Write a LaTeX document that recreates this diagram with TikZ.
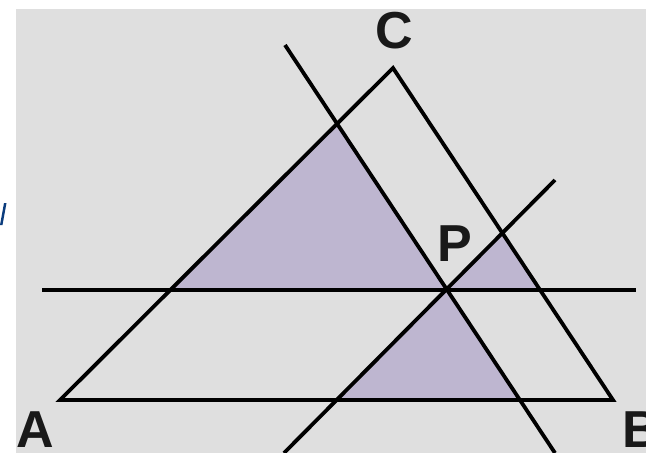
\documentclass[tikz,border=0pt]{standalone}
\usepackage{fontspec}
\setmainfont{Liberation Sans}
\definecolor{bg}{HTML}{DFDFDF}
\definecolor{lilac}{HTML}{BEB6D0}
\definecolor{blu}{HTML}{0B3C7D}
\begin{document}
\begin{tikzpicture}[x=1pt,y=-1pt,
  ln/.style={line width=3.8pt,black,line cap=butt,line join=miter},
  lbl/.style={font=\fontsize{52}{60}\selectfont\bfseries,inner sep=0pt,text=black!90}]
\useasboundingbox (0,0) rectangle (646,453);
\fill[bg] (16,9) rectangle (646,453);
\fill[blu] (0,225) -- (2.5,225) -- (6.5,203) -- (4,203) -- cycle;
% points
\coordinate (A) at (60,400);
\coordinate (B) at (613,400);
\coordinate (C) at (393,68);
\coordinate (P) at (447,290);
\coordinate (h1) at (42,290);
\coordinate (h2) at (636,290);
\coordinate (u1) at (555,180);
\coordinate (u2) at (284,453);
\coordinate (v1) at (285,45);
\coordinate (v2) at (555,453);
\coordinate (t1) at (170,290);
\coordinate (t2) at (337,124);
\coordinate (r1) at (540,290);
\coordinate (r2) at (503,234);
\coordinate (b1) at (337,400);
\coordinate (b2) at (520,400);
% shaded triangles
\fill[lilac] (t1) -- (P) -- (t2) -- cycle;
\fill[lilac] (P) -- (r1) -- (r2) -- cycle;
\fill[lilac] (P) -- (b1) -- (b2) -- cycle;
% lines
\draw[ln] (A) -- (C) -- (B) -- cycle;
\draw[ln] (h1) -- (h2);
\draw[ln] (u1) -- (u2);
\draw[ln] (v1) -- (v2);
% labels
\node[lbl] (lC) at (394,31) {C};
\node[lbl] (lP) at (455,244) {P};
\node[lbl] (lA) at (35,430) {A};
\node[lbl,anchor=west] (lB) at (622,430) {B};
\end{tikzpicture}
\end{document}
